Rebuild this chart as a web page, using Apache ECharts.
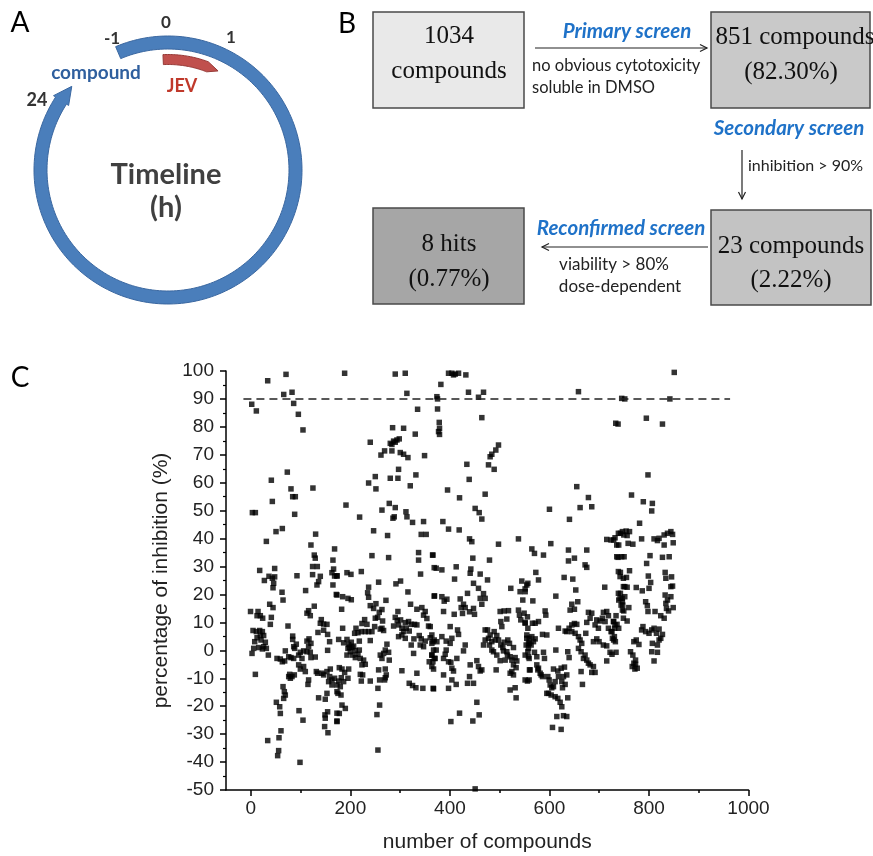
<!DOCTYPE html>
<html><head><meta charset="utf-8">
<script src="https://cdn.jsdelivr.net/npm/echarts@6/dist/echarts.min.js"></script>
<style>html,body{margin:0;padding:0;background:#fff}#c{width:873px;height:856px}</style>
</head><body><div id="c"></div>
<script>
// ---- Panel C data: [compound index, % inhibition] ----
const segA = [[1.7,88.1],[11,85.7],[33.8,96.5],[70.6,98.8],[66,91.6],[82.7,92.4],[86,88.4],[95.4,84.5],[104.7,78.9],
[73.2,63.8],[41.1,60.9],[124.7,58.1],[80.6,57.8],[84,55],[89.3,55],[43.1,53.3],[3,49.3],[9,49.3],[88,48.7],[63.2,43.6],[50.5,42.5],[130.1,41.6],[31.1,39],[120.7,37.7],[168.2,36.3],[127.4,34.1],[164.9,32.3],[129.4,33],[166.2,29.1],[124,30],[133.5,30],[17.7,28.6],[47.8,29.3],[36.4,26.5],[43.1,25.8],[27.1,25],[47.8,26.3],[45.8,24],[44.5,22.4],[62.6,20.8],[64.6,18],[92.6,26.7],[124,27.1],[139.5,26.5],[136.1,24.6],[132.8,23.4],[162.9,27.8],[168.2,26.6],[164.9,23.4],[173,26.6],[171.6,20],[110,21.4],[127.4,15.8],[116,14.2],[119.4,12.4],[112.7,13.3],[141.5,11],[139.5,9.7],[146.2,9.4],[152.9,9.3],[134.8,6.4],[146.2,7.2],[154.2,5.7],[158.2,3.1],[154.2,0],
[-0.7,13.9],[14.4,13.9],[12.4,12.4],[19,12.4],[23.7,11.5],[37.8,16.5],[44.5,15.3],[41.1,11.8],[39.1,9.3],[74.6,8.7],
[4.3,7.1],[11,6.7],[17.7,7.1],[23.1,6.7],[25.7,5.3],[19,5.3],[12.4,4.5],[20.4,3.7],[7.7,3.1],[29.1,2.9],[25.7,1.3],[15.7,1],[5.7,0.7],[2.3,-1.1],[23.1,0.5],[31.1,0.7],[35.1,-1.7],[9,-8.6],
[52.5,-2.9],[59.2,-3.1],[67.9,-3.8],[63.2,-4.1],[69.2,-0.2],[86,1.3],[91.3,2.2],[84,3.9],[88,0.7],[76,-2.3],[80.6,-2.6],[86,-2.9],[96,-1.7],[99.4,-0.7],[106,-0.2],[112.7,-0.5],[119.4,-0.7],[102.7,-2.9],[96,-5.2],[112.7,3.3],[116.8,4.1],[120.7,2.5],[116,1.3],[99.4,-6.7],[106,-5.8],[109.4,-7.6],[78,-8.6],[82.6,-9.4],[87.3,-8.8],[76,-9.4],[79.3,-10],[120.7,-2.6],
[129.4,-2.4],[131.5,-7.6],[134.1,-8.2],[142.9,-8.2],[146.2,-8.8],[152.9,-7.6],[159.6,-6.7],[158.3,-9.4],[162.9,-10.6],[156.2,-11.2],[162.9,-12.4],[168.2,-10],[173,-14.8],[116,-10.6],[114.7,-12.2],
[64.6,-13],[67.2,-14.8],[69.2,-16],[65.9,-17.2],[51.2,-18.6],[57.9,-20.2],[59.2,-22.6],[96.7,-21.6],[104.7,-25],[136.1,-17],[149.5,-17.5],[152.9,-15.4],[148.9,-23.1],[149.5,-24.3],[154.2,-22],[148.2,-27.3],[154.9,-29.5],[173,-22.5],[173,-25.3],[60.5,-28.8],[56.5,-31.3],[55.8,-35.9],[53.8,-37.7],[33.8,-32.3],[98.7,-40.1],[84,5.1]];

const segB = [[188.4,99.2],[290.1,98.9],[310.2,99.2],[313.5,92],[335,86.3],[284.8,79.7],[306.9,79.5],[239.9,74.5],[330.3,77.4],[280.1,74.1],[286.8,74.9],[293.5,75.3],[298.2,75.7],[290.1,74.5],[283.4,73.7],[261.4,69.9],[268.7,71.4],[283.4,71.4],[300.2,70.8],[306.9,70.2],[315.6,69],[349,69.7],[296.8,64.8],[250,62.2],[236.6,59.9],[251.3,57.8],[280.1,61.6],[295.5,61.6],[331.6,62.8],[320.3,58.9],[191.1,52],[218.5,47.7],[263.4,50.2],[278.1,52.6],[290.1,51.1],[285.5,47.3],[288.1,47.8],[311.6,49.6],[313.6,47.8],[324.9,45.8],[347,46.1],[342.3,41.5],[352.3,41.5],[246.6,42.8],[274.7,41.1],[243.3,33.9],[276.8,33.2],[337,35],[337,32.3],[365.1,34.1],[368.4,29.6],[341,27.3],[221.9,28.2],[193.1,27.8],[201.1,27.2],[173,26.7],[256.7,24.4],[291.5,23.8],[300.8,24.8],[236.6,22.6],[234.6,20.6],[236.6,19],[315.6,20.9],[368.4,19.4],[173,19.8],[184.4,19.2],[195.1,18.6],[201.8,18.1],[271.4,17.9],[239.9,16],[251.3,16.7],[246.6,15],[263.4,14.6],[258,13.6],[182.4,14.7],[320.9,16.5],[343.6,15.3],[333.6,14.7],[350.3,13.9],[347,12.6],[353.7,11.4],[357,8.7],[295.5,13.9],
[250,11.5],[254.7,11.8],[264.7,10.5],[260,7.6],[290.1,11.8],[300.8,10.9],[294.1,10.6],[310.2,9.9],[316.9,10.3],[322.2,9.3],[328.9,9.3],[333.6,9.1],[312.2,7.9],[318.2,6.9],[303.5,7.9],[306.9,6.7],[296.8,9.1],[286.8,8.7],
[228.6,11],[223.2,9.6],[233.3,9.3],[211.2,7.9],[221.9,6.7],[229.9,6.7],[236.6,6.7],[243.3,6.7],[239.9,3.5],[263.4,7.9],[266.7,7.1],[248.7,8.5],[184.4,7.9],[208.5,6.1],[215.2,6.3],[217.9,3.3],[176.4,3.9],[186.4,2.7],[193.1,3.9],
[196.5,2.1],[201.8,2.9],[198.5,1.1],[203.2,1],[206.5,1.5],[209.9,-0.1],[215.2,-1.4],[217.9,0.1],[199.8,-0.5],[195.1,0.7],[193.1,-1.7],[204.5,-1.7],[209.9,-2.6],[219.9,-2.9],[226.6,-3.5],[229.9,-5],[223.2,-5.2],
[273.4,2.2],[270.1,0.1],[266.7,-1.1],[260,-1.7],[276.8,-0.7],[263.4,-2.9],[278.1,-3.5],
[296.8,4.9],[303.5,5.5],[310.2,4.3],[327.6,4.1],[322.2,1.9],[338.3,5.3],[342.3,4.1],[340.3,1.9],[347,1.3],[350.3,3.3],[360.4,4.5],[363.7,2.5],[367.1,0.1],[363.7,-1.7],[358.4,-4.1],[368.4,-2.9],[363.7,-5.8],[327,-1.1],
[256.7,-7],[270.1,-6.7],[272.1,-8.8],[268.7,-10.6],[258.7,-10.6],[255.3,-13.6],[270.1,-9.8],[303.5,-7.3],[318.2,-11.8],[324.9,-12.6],[331.6,-13.4],[345.6,-13.6],[366.4,-13.6],[333.6,-8.2],
[177.7,-6.2],[183.1,-6.7],[188.4,-7.9],[181.7,-9.8],[186.4,-11.2],[176.4,-11],[179.7,-13],[173,-12.4],[175,-15.4],[181.1,-16],[196.5,-6.7],[195.1,-10],[219.9,-8.6],[224.6,-8.8],[221.9,-11],[239.9,-11],
[183.1,-19.6],[189.8,-20.8],[177.7,-22.6],[173,-25.5],[258.7,-19.6],[253.3,-23],[255.3,-35.7]];

const segC = [[397.2,99.2],[403.9,99.2],[410.6,98.9],[417.3,99.2],[407.2,98.6],[432,98.6],[381.8,95.2],[373.8,90.8],[375.1,90],[437.3,92.4],[457.4,90.6],[467.5,92.4],[464.1,83.3],[375.1,86.4],[378.5,81.6],[379.1,79.5],[377.1,78.3],[379.1,77.3],
[497.6,73.5],[492.2,71.7],[484.2,70.2],[480.8,69.3],[477.5,66.4],[488.9,64.8],[434,66.6],[438.7,61.2],[395.2,57.4],[419.3,54.6],[470.8,55.9],[450.7,50.8],[458.8,49.3],[464.1,47],[385.8,46.1],[397.2,43.4],[418.6,43.1],[439.4,39.9],[444,38.9],[497.6,38],[537.7,39.9],[365.8,34.1],[446,33],[479.5,32.3],
[372.4,29.4],[383.8,28.8],[412.6,29.9],[442,29.1],[440.7,27.6],[460.8,27.3],[409.3,25.5],[447.4,24],[457.4,22.2],[475.5,25.2],[467.5,20.3],[460.8,18.6],[470.8,18.6],[435.3,20.4],[464.1,16.5],[522.3,22.2],
[369.1,19.5],[383.8,19.2],[393.9,18.3],[388.5,17.6],[420.6,18.4],[427.3,16.5],[422.6,15.3],[430.7,15.3],[447.4,15],[439.4,13.8],[449.4,12.9],[425.3,13.2],[408.6,12.9],[387.2,13.9],
[544.4,24.8],[541,21],[551.1,22],[554.4,23.4],[546.4,18],[537.7,14.4],[539.7,12.6],[542.4,10.9],[551.1,9.7],[555.8,12],[549.1,13.3],
[500.9,13.9],[508.9,14.1],[517.7,14.2],[502.3,10.3],[514.3,11.2],[504.3,8.5],[516.3,3.7],
[360.4,8.5],[363.7,5.5],[368.4,3.7],[373.8,3.1],[365.8,3.1],[383.8,4.9],[392.5,3.3],[400.5,8.5],[403.9,4.3],[415.3,7.3],[417.3,5.7],[430.7,1.9],[427.3,-0.2],[400.5,2.5],[392.5,0.1],[390.5,-1.4],[372.4,0.1],[363.7,-1.7],[365.8,-4.1],[367.1,-6.7],[370.4,-2.9],
[387.2,-2.9],[397.2,-4.1],[401.9,-4.3],[403.9,-6.4],[407.2,-7.4],[413.9,-2.9],[387.2,-8.8],[403.9,-10.6],[412.6,-12.2],[397.2,-13.6],[367.1,-13.8],
[440.7,-5.2],[454.1,-3.7],[457.4,-5.8],[460.8,-7.4],[464.1,-7],[439.4,-9.4],[435.3,-11.8],[447.4,-11.8],
[470.8,7.3],[475.5,7.3],[480.8,5.5],[488.9,6.7],[494.2,5.3],[497.6,3.7],[502.3,1.9],[506.3,1],[507.6,-0.2],[514.3,-0.5],[521,-2.3],[524.4,-3.5],[527.7,-5.2],[533,-6.2],[524.4,-7.6],[515.6,-1.7],[509,2.9],[490.9,3.7],[484.2,3.1],[479.5,1.9],[484.2,0.1],[487.5,-0.5],[494.2,-1.7],[500.9,-3.7],[511,-3.5],[467.5,1.9],[470.8,3.7],[477.5,4.3],[492.9,-7],[521,-8.2],[527.7,-8.8],[534.4,-3.8],[531.1,-2.6],[519.7,2.5],[527.7,1],
[554.4,4.3],[559.8,2.5],[557.8,0.7],[557.8,-2.3],[559.8,-7],[551.1,-10.6],[555.8,-11],
[521,-14.2],[531.1,-13.4],[533,-17],[454.1,-18.6],[458.8,-23.1],[446,-25.3],[419.3,-22.5],[401.9,-25.5],[450.7,-49.6]];

const segD = [[658.3,92.6],[745.2,90.2],[733.2,81.3],[654.9,58.6],[678.3,54.7],[685,51.4],[661.6,51.1],[600,50.5],[640.2,46.9],[602.7,38.2],[564.6,36.3],[569.9,34.7],[588,34.1],[638.2,35.9],[650.2,33],[638.2,32],[675,35.9],[671.6,30.6],[675,29.7],
[715.1,39.7],[723.8,39.5],[731.8,40.3],[738.5,41.9],[746.6,42.5],[735.2,37.7],[735.2,33.5],[745.2,33.5],
[572.6,27.9],[578,25.2],[556.6,24],[551.2,21],[629.5,26.1],[646.9,25.5],[652.9,21.6],[612.8,19.4],[566.6,17.7],[656.9,17.4],[644.9,16.5],[641.5,14.4],[650.2,14.7],[711.1,22.6],
[738.5,28.2],[741.9,26.4],[748.6,25.8],[748.6,22.8],[738.5,20.4],[741.9,18.6],[743.9,16.2],[746.6,14.4],
[591.3,14.1],[592.7,12.6],[578,10.3],[571.3,9.7],[565.9,9.7],
[551.2,10],[556.6,7.9],[554.5,5.5],[559.2,4.3],[564.6,4.9],[571.3,4.1],[557.9,2.5],[567.9,3.1],[563.2,1.9],[553.2,1.9],[556.6,-0.5],[551.2,-1.7],
[618.1,7.9],[612.8,0.1],[586,5.7],[594.7,5.5],
[569.9,-0.7],[574.6,-2.3],[588,-0.7],[590,-2.9],[559.2,-2.9],[561.2,-7],[559.2,-10.6],
[574.6,-5.2],[578,-6.4],[581.3,-8.2],[576.6,-7],[583.3,-8.8],[586,-9.4],
[596.7,-9.4],[599.4,-10.6],[601.4,-12.4],[604.7,-13.4],[608.1,-13],[598,-15.4],[594.7,-15.4],[603.4,-16],[611.4,-16.6],[616.8,-17.2],[621.5,-18.6],[624.8,-20.2],[614.8,-23.7],[628.2,-23.4],[634.8,-23.7],[606.1,-27.6],[623.5,-28.3],[636.8,-17],
[608.1,-6.7],[616.8,-7.4],[623.5,-6.4],[630.2,-6],[618.1,-9.4],[628.2,-9.4],[634.8,-8.8],[624.8,-11.2],[631.5,-12.2],[611.4,-11.2],[626.2,-13.4],[639.5,-2.6],[636.8,-0.5],
[631.5,6.9],[634.8,6.7],[639.5,7.9],[644.9,9.1],[650.2,9.6],[654.9,9.3],[644.9,6.7],[651.6,6.1],[658.3,4.9],[661.6,3.7],[664.9,2.5],[658.3,0.7],[663.6,-0.5],[671.6,-1.7],[668.3,-2.9],[675,-3.5],[678.3,-4.6],[681.7,-5.2],[688.4,-5.8],[685,-7.9],[691.7,-7.9],[673,6.1],[675,10],[681.7,11.5],[678.3,13.6],[685,13.3],[663.6,-7.6],[666.3,-12.2],
[688.4,3.1],[695.1,4.1],[699.7,3.1],[708.4,1.9],[715.1,1.6],[715.1,-3.8],[721.8,-0.7],[726.5,4.3],[730.5,4.9],[731.8,9.1],[728.5,10.3],[723.8,6.7],[718.5,7.9],[711.8,10.3],[706.4,11.5],[701.7,10.5],[695.1,10.9],[691.7,9.1],[698.4,7.9],[708.4,13.6],[715.1,13.9],[718.5,12.4],[746.6,17.4],[748.6,11.5]];

const segE = [[850.8,99.5],[751.4,90],[842,90],[737.9,81],[794.7,83.1],[827.1,81],[798,62.8],[764.9,55.6],[788.6,53.2],[806.8,52.6],[805.5,49.9],[781.1,45.5],[785.2,39.9],
[742.6,41.9],[749.4,41.3],[754.1,42.7],[760.9,42.5],[756.1,41.1],[729.1,39.5],[739.2,37.7],[758.1,38.3],[767.6,38],
[810.2,39.9],[817,39.3],[820.3,40.1],[830.5,41.3],[837.2,41.9],[844,42.5],[847.4,41.5],[830.5,37.7],[848.7,38.5],
[737.9,33.3],[750,33.5],[802.1,33.9],[795.3,31.1],[827.1,33.3],[840.6,33.5],
[742.6,27.9],[760.9,28.5],[754.8,26.1],[798.7,26.6],[803.4,24.3],[832.5,27.9],[845.4,26.3],[833.9,25.8],
[751.4,22.8],[756.1,22.6],[774.4,22.5],[786.5,21.3],[800.1,22.2],[844,22.8],[847.4,23],
[742.6,20.4],[746,18.6],[751.4,19.2],[739.2,18],
[793.3,17.4],[796.7,16],[832.5,19.8],[837.2,18],[844,19.2],[833.9,16.8],[835.2,15],[848.7,15.3],[839.3,14.1],[823.7,12.4],[830.5,11.5],
[747.3,16.2],[749.4,14.1],[759.5,15.3],[756.1,10.5],[733.8,12.4],[729.1,10.3],[735.8,9.3],[731.1,7.9],[739.2,7.9],
[798,13.9],[812.2,13.9],[787.9,8.5],[785.2,7.3],[793.3,6.7],[800.1,6.1],[805.5,7.3],[810.2,7.9],[820.3,7.6],[815,6.1],[827.1,5.7],[823.7,4.3],[820.3,3.7],[817,1.9],[806.8,2.5],[805.5,-0.5],[817,-0.7],[810.2,-3.8],[774.4,3.7],[769.6,3.1],[779.8,2.1],[762.9,-0.5],[767.6,-1.7],[773,-3.5],[769.6,-4.6],[766.3,-5.8],[771.7,-6.7],[776.4,-6.4],[773,-5],
[725.7,6.7],[729.1,3.7],[732.5,3.1],[733.8,-0.7],[725.7,-1.4]];

const xMajorTicks = [0, 200, 400, 600, 800, 1000];
const xMinorTicks = [100, 300, 500, 700, 900];
const cutoff = 90;
const cutoffRange = [-15, 963];

// ---- Panel B texts ----
const flowBoxes = [
  {lines: ['1034', 'compounds']},
  {lines: ['851 compounds', '(82.30%)']},
  {lines: ['23 compounds', '(2.22%)']},
  {lines: ['8 hits', '(0.77%)']}
];
const screenNames = ['Primary screen', 'Secondary screen', 'Reconfirmed screen'];
const criteria = [['no obvious cytotoxicity', 'soluble in DMSO'], ['inhibition > 90%'], ['viability > 80%', 'dose-dependent']];
const timelineLabels = ['-1', '0', '1', '24'];

const points = segA.concat(segB, segC, segD, segE);

// ---- geometry helpers for panel A ----
const CX = 168, CY = 170;
function pt(r, deg) { const a = deg * Math.PI / 180; return [CX + r * Math.cos(a), CY + r * Math.sin(a)]; }
function arc(r, a0, a1, n) { const p = []; for (let i = 0; i <= n; i++) p.push(pt(r, a0 + (a1 - a0) * i / n)); return p; }
const ringPts = arc(134, -113, 213, 200).concat([pt(136.5, 213), pt(127.5, 221), pt(118.5, 213)], arc(121, 213, -113, 200));
const jevPts = arc(115.5, -92.5, -69.6, 30).concat([pt(111, -63.2)], arc(105.5, -68.5, -92.5, 30));

function txt(x, y, s, font, fill, align) {
  return {type: 'text', x: x, y: y, z: 10, style: {text: s, font: font, fill: fill || '#000', align: align || 'center', verticalAlign: 'middle'}};
}
function rect(x, y, w, h, fill) {
  return {type: 'rect', shape: {x: x, y: y, width: w, height: h}, style: {fill: fill, stroke: '#4a4a4a', lineWidth: 1.5}};
}
function line(x1, y1, x2, y2) {
  return {type: 'line', shape: {x1: x1, y1: y1, x2: x2, y2: y2}, style: {stroke: '#222', lineWidth: 1.2}};
}
function head(pts) { return {type: 'polyline', shape: {points: pts}, style: {stroke: '#222', lineWidth: 1.2, fill: null}}; }

const SANS = '"Lato", "Open Sans", sans-serif';
const SERIF = '"Liberation Serif", serif';
const BLUE = '#1f72c8';

const graphic = [
  txt(20, 23, 'A', '28px ' + SANS),
  {type: 'polygon', shape: {points: ringPts}, style: {fill: '#4a7ebb', stroke: '#3a67a0', lineWidth: 1}},
  {type: 'polygon', shape: {points: jevPts}, style: {fill: '#c0504d', stroke: '#963a37', lineWidth: 1}},
  txt(112, 39, timelineLabels[0], 'bold 17px ' + SANS, '#333'),
  txt(166, 23, timelineLabels[1], 'bold 17px ' + SANS, '#333'),
  txt(231, 38, timelineLabels[2], 'bold 17px ' + SANS, '#333'),
  txt(37, 100, timelineLabels[3], 'bold 18px ' + SANS, '#333'),
  txt(96, 73, 'compound', 'bold 19px ' + SANS, '#2f5f9e'),
  txt(182, 86, 'JEV', 'bold 18px ' + SANS, '#c0392b'),
  txt(166, 175, 'Timeline', 'bold 29px ' + SANS, '#404040'),
  txt(166, 208, '(h)', 'bold 29px ' + SANS, '#404040'),

  txt(347, 24, 'B', '28px ' + SANS),
  rect(373, 12, 151, 96, '#e9e9e9'),
  rect(711, 12, 159, 96, '#c9c9c9'),
  rect(711, 210, 160, 95, '#c3c3c3'),
  rect(373, 208, 151, 96, '#a6a6a6'),
  txt(449, 36, flowBoxes[0].lines[0], '25px ' + SERIF, '#111'),
  txt(449, 71, flowBoxes[0].lines[1], '25px ' + SERIF, '#111'),
  txt(795, 37, flowBoxes[1].lines[0], '25px ' + SERIF, '#111'),
  txt(791, 72, flowBoxes[1].lines[1], '25px ' + SERIF, '#111'),
  txt(791, 246, flowBoxes[2].lines[0], '25px ' + SERIF, '#111'),
  txt(791, 280, flowBoxes[2].lines[1], '25px ' + SERIF, '#111'),
  txt(449, 244, flowBoxes[3].lines[0], '25px ' + SERIF, '#111'),
  txt(449, 279, flowBoxes[3].lines[1], '25px ' + SERIF, '#111'),
  line(535, 48, 707, 48), head([[700, 44.5], [707, 48], [700, 51.5]]),
  line(742, 150, 742, 199), head([[738.5, 192], [742, 199], [745.5, 192]]),
  line(708, 247, 542, 247), head([[549, 243.5], [542, 247], [549, 250.5]]),
  txt(627, 31, screenNames[0], 'italic bold 20.5px ' + SANS, BLUE),
  txt(789, 128, screenNames[1], 'italic bold 20.5px ' + SANS, BLUE),
  txt(621, 228, screenNames[2], 'italic bold 20.5px ' + SANS, BLUE),
  txt(532, 66, criteria[0][0], '16.5px ' + SANS, '#222', 'left'),
  txt(532, 88, criteria[0][1], '16.5px ' + SANS, '#222', 'left'),
  txt(748, 166, criteria[1][0], '16px ' + SANS, '#222', 'left'),
  txt(614, 265, criteria[2][0], '17px ' + SANS, '#222'),
  txt(620, 287, criteria[2][1], '17px ' + SANS, '#222'),

  txt(20, 378, 'C', '28px ' + SANS)
];

const AX = '"Liberation Sans", Arial, sans-serif';
const chart = echarts.init(document.getElementById('c'));
chart.setOption({
  animation: false,
  grid: {left: 226, right: 124.5, top: 371, bottom: 66},
  xAxis: [{
    type: 'value', min: -50, max: 1000,
    splitLine: {show: false},
    axisLine: {show: true, onZero: false, lineStyle: {color: '#000', width: 1.5}},
    axisTick: {show: true, customValues: xMajorTicks, length: 6, lineStyle: {color: '#000', width: 1.5}},
    axisLabel: {customValues: xMajorTicks, formatter: function (v) { return String(v); }, fontSize: 19, color: '#222', fontFamily: AX, margin: 9},
    name: 'number of compounds', nameLocation: 'middle', nameGap: 42,
    nameTextStyle: {fontSize: 21, color: '#222', fontFamily: AX}
  }, {
    type: 'value', min: -50, max: 1000, position: 'bottom',
    splitLine: {show: false}, axisLine: {show: false, onZero: false},
    axisTick: {show: true, customValues: xMinorTicks, length: 3, lineStyle: {color: '#000', width: 1.5}},
    axisLabel: {show: false}
  }],
  yAxis: {
    type: 'value', min: -50, max: 100, interval: 10,
    splitLine: {show: false},
    axisLine: {show: true, onZero: false, lineStyle: {color: '#000', width: 1.5}},
    axisTick: {show: true, length: 6, lineStyle: {color: '#000', width: 1.5}},
    minorTick: {show: true, splitNumber: 2, length: 3, lineStyle: {color: '#000', width: 1.2}},
    axisLabel: {fontSize: 19, color: '#222', fontFamily: AX, margin: 12},
    name: 'percentage of inhibition (%)', nameLocation: 'middle', nameGap: 37, nameRotate: 90,
    nameTextStyle: {fontSize: 21, color: '#222', fontFamily: AX}
  },
  series: [{
    type: 'scatter', data: points, symbol: 'rect', symbolSize: 5.5,
    itemStyle: {color: '#000'}, silent: true,
    markLine: {
      silent: true, symbol: ['none', 'none'], label: {show: false},
      lineStyle: {color: '#222', width: 1.5, type: [8, 5]},
      data: [[{coord: [cutoffRange[0], cutoff]}, {coord: [cutoffRange[1], cutoff]}]]
    }
  }],
  graphic: graphic
});
</script></body></html>
